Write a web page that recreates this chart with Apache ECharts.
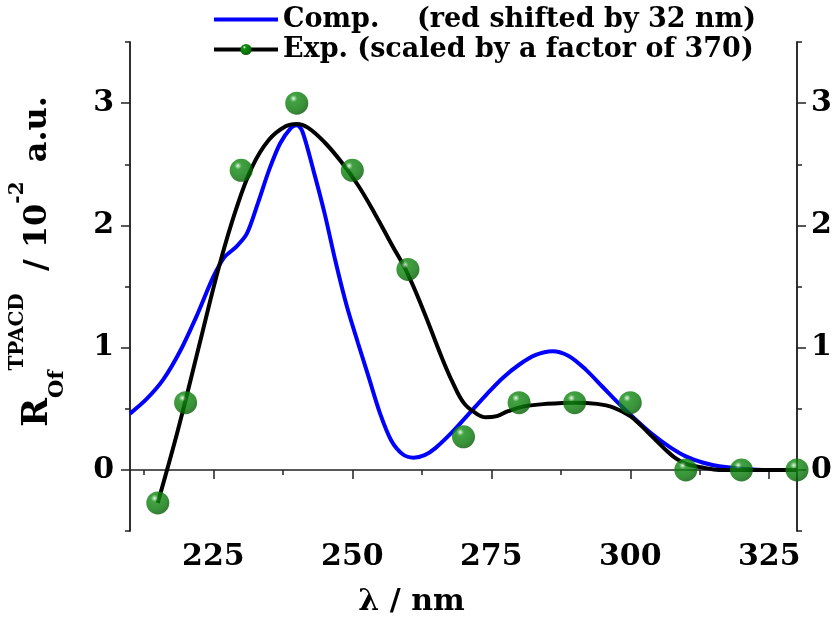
<!DOCTYPE html>
<html>
<head>
<meta charset="utf-8">
<script src="https://cdn.jsdelivr.net/npm/echarts@6/dist/echarts.min.js"></script>
<style>
  html, body { margin: 0; padding: 0; background: #fff; }
  #chart { width: 838px; height: 617px; }
</style>
</head>
<body>
<div id="chart"></div>
<script>
// computed spectrum (red shifted by 32 nm)
const compX = [210, 213, 216, 219, 222, 225, 227, 229, 231, 233, 235, 237, 239, 240, 241, 243, 245, 247, 249, 251, 253, 255, 257, 259, 261, 263, 265, 268, 271, 274, 277, 280, 283, 286, 289, 292, 295, 298, 301, 304, 307, 310, 313, 316, 320, 325, 330]
const compY = [0.46, 0.58, 0.74, 0.97, 1.26, 1.58, 1.74, 1.82, 1.93, 2.18, 2.45, 2.67, 2.80, 2.82, 2.77, 2.45, 2.10, 1.70, 1.34, 1.04, 0.75, 0.46, 0.24, 0.13, 0.10, 0.12, 0.18, 0.31, 0.46, 0.61, 0.75, 0.86, 0.94, 0.97, 0.93, 0.82, 0.68, 0.54, 0.41, 0.29, 0.19, 0.11, 0.06, 0.03, 0.01, 0, 0]

// fitted curve through the experiment
const fitX = [215, 218, 220, 223, 226, 229, 232, 235, 238, 240, 242, 245, 248, 251, 254, 257, 260, 263, 266, 268, 270, 272, 274, 276, 278, 281, 285, 290, 294, 297, 300, 302, 304, 306, 308, 310, 313, 316, 320, 325, 330]
const fitY = [-0.27, 0.22, 0.57, 1.12, 1.66, 2.12, 2.48, 2.70, 2.81, 2.83, 2.80, 2.68, 2.52, 2.33, 2.10, 1.85, 1.60, 1.28, 0.93, 0.72, 0.55, 0.47, 0.43, 0.44, 0.48, 0.52, 0.54, 0.55, 0.54, 0.51, 0.44, 0.36, 0.27, 0.18, 0.10, 0.05, 0.02, 0, 0, 0, 0]

// experimental points (scaled by 370)
const expX = [215, 220, 230, 240, 250, 260, 270, 280, 290, 300, 310, 320, 330]
const expY = [-0.27, 0.55, 2.45, 3.0, 2.45, 1.64, 0.27, 0.55, 0.55, 0.55, 0, 0, 0]

const xTicks = [225, 250, 275, 300, 325]
const xMinorTicks = [212.5, 237.5, 262.5, 287.5, 312.5]
const yTicks = [0, 1, 2, 3]
const yMinorTicks = [-0.5, 0.5, 1.5, 2.5, 3.5]

const legendText = {
  'Comp.': 'Comp.    (red shifted by 32 nm)',
  'Exp.': 'Exp. (scaled by a factor of 370)'
}

const FONT = 'DejaVu Serif'
const axisColor = '#222'

const ball = {
  type: 'radial', x: 0.36, y: 0.3, r: 0.72,
  colorStops: [
    { offset: 0, color: '#f4fbf4' },
    { offset: 0.08, color: '#8acb8a' },
    { offset: 0.22, color: '#128a12' },
    { offset: 0.7, color: '#087808' },
    { offset: 1, color: '#045a04' }
  ]
}

function zip(xs, ys) {
  return xs.map((x, i) => [x, ys[i]])
}

const chart = echarts.init(document.getElementById('chart'))

const yBase = {
  type: 'value', min: -0.5, max: 3.5,
  splitLine: { show: false },
  axisLine: { show: true, lineStyle: { color: axisColor, width: 1.5 } }
}

const option = {
  animation: false,
  grid: { left: 130, right: 41, top: 42, bottom: 86, containLabel: false, outerBoundsMode: 'none' },
  legend: {
    orient: 'vertical',
    left: 212, top: 6, padding: 0,
    itemWidth: 64, itemHeight: 14, itemGap: 3,
    data: [
      { name: 'Comp.', itemStyle: { opacity: 0 }, lineStyle: { width: 4 } },
      { name: 'Exp.', lineStyle: { width: 4 } }
    ],
    formatter: name => legendText[name],
    textStyle: { fontFamily: FONT, fontWeight: 'bold', fontSize: 27, color: '#000' }
  },
  xAxis: [
    {
      type: 'value', min: 210, max: 330,
      axisLine: { onZero: true, lineStyle: { color: axisColor, width: 1.5 } },
      axisTick: { customValues: xTicks, length: 9, lineStyle: { color: axisColor, width: 1.5 } },
      axisLabel: { customValues: xTicks, margin: 11, fontFamily: FONT, fontWeight: 'bold', fontSize: 30, color: '#000' },
      splitLine: { show: false },
      name: 'λ / nm',
      nameLocation: 'middle',
      nameGap: 56,
      nameTextStyle: { fontFamily: FONT, fontWeight: 'bold', fontSize: 30, color: '#000', padding: [0, 104, 0, 0] }
    },
    {
      type: 'value', min: 210, max: 330, position: 'bottom',
      axisLine: { show: false, onZero: true },
      axisTick: { customValues: xMinorTicks, length: 5, lineStyle: { color: axisColor, width: 1.5 } },
      axisLabel: { show: false },
      splitLine: { show: false }
    }
  ],
  yAxis: [
    Object.assign({}, yBase, {
      position: 'left',
      axisTick: { customValues: yTicks, length: 9, lineStyle: { color: axisColor, width: 1.5 } },
      axisLabel: { customValues: yTicks, margin: 16, fontFamily: FONT, fontWeight: 'bold', fontSize: 30, color: '#000' },
      name: '{pad|}{r|R}{sub|Of}{sup|TPACD}{n|  / 10}{sup2|-2}{n| a.u.}',
      nameLocation: 'middle',
      nameRotate: 90,
      nameGap: 62,
      nameTextStyle: {
        color: '#000',
        rich: {
          r: { fontFamily: FONT, fontWeight: 'bold', fontSize: 35, lineHeight: 60, verticalAlign: 'middle' },
          sub: { fontFamily: FONT, fontWeight: 'bold', fontSize: 21, lineHeight: 21, verticalAlign: 'bottom' },
          sup: { fontFamily: FONT, fontWeight: 'bold', fontSize: 20, lineHeight: 25, verticalAlign: 'top' },
          n: { fontFamily: FONT, fontWeight: 'bold', fontSize: 32, lineHeight: 60, verticalAlign: 'middle' },
          sup2: { fontFamily: FONT, fontWeight: 'bold', fontSize: 20, lineHeight: 14, verticalAlign: 'top', padding: [0, 8, 0, 0] },
          pad: { width: 50 }
        }
      }
    }),
    Object.assign({}, yBase, {
      position: 'right',
      axisTick: { customValues: yTicks, length: 9, lineStyle: { color: axisColor, width: 1.5 } },
      axisLabel: { customValues: yTicks, margin: 14, fontFamily: FONT, fontWeight: 'bold', fontSize: 30, color: '#000' }
    }),
    Object.assign({}, yBase, {
      position: 'left',
      axisTick: { customValues: yMinorTicks, length: 5, lineStyle: { color: axisColor, width: 1.5 } },
      axisLabel: { show: false }
    }),
    Object.assign({}, yBase, {
      position: 'right',
      axisTick: { customValues: yMinorTicks, length: 5, lineStyle: { color: axisColor, width: 1.5 } },
      axisLabel: { show: false }
    })
  ],
  series: [
    {
      name: 'Comp.',
      type: 'line',
      smooth: 0.3,
      symbol: 'none',
      data: zip(compX, compY),
      lineStyle: { color: '#0000ff', width: 4 },
      itemStyle: { color: '#0000ff' },
      z: 2
    },
    {
      name: 'Exp.',
      type: 'line',
      smooth: 0.4,
      symbol: 'circle',
      symbolSize: 12,
      showSymbol: false,
      data: zip(fitX, fitY),
      lineStyle: { color: '#000', width: 4 },
      itemStyle: { color: ball },
      z: 3
    },
    {
      name: 'Exp. points',
      type: 'scatter',
      symbol: 'circle',
      symbolSize: 23,
      data: zip(expX, expY),
      itemStyle: { color: ball },
      z: 4
    }
  ]
}

chart.setOption(option)
</script>
</body>
</html>
